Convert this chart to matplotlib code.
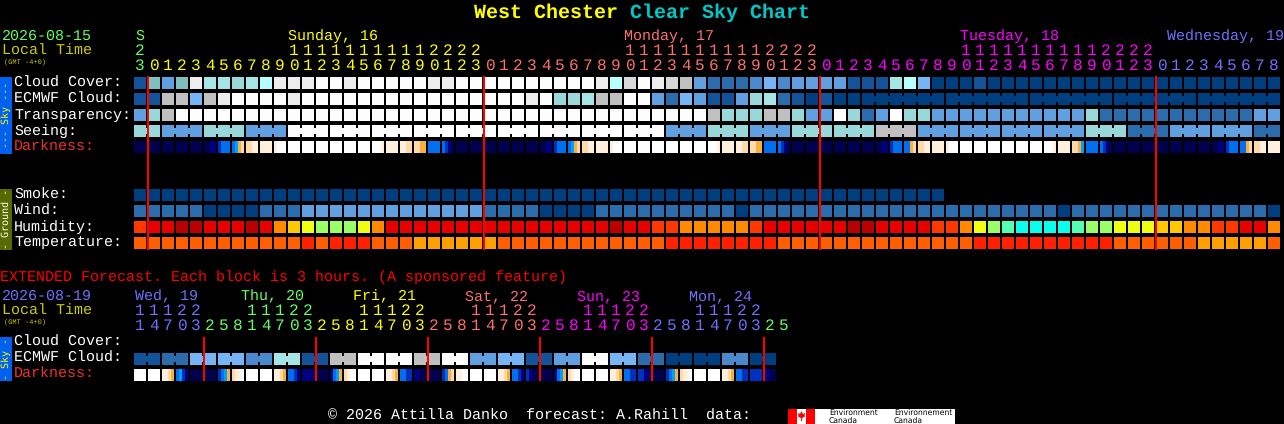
import matplotlib
matplotlib.use("Agg")
from matplotlib import pyplot as plt
from matplotlib.patches import Polygon

plt.rcParams['text.hinting'] = 'no_hinting'

# cloud palette, clear -> overcast
cloud_pal = ['#003f7f', '#13539a', '#2b6cad', '#4a8acc', '#60a0e0', '#75b5f5', '#7fbfbf',
             '#98d8d8', '#a5e5e5', '#b5ffff', '#c0c0c0', '#d8d8d8', '#ededed', '#fdfdfd']
hum_pal = ['#08ffee', '#55ffb0', '#99ff66', '#eeff11', '#ffc800', '#ff8a00', '#ff3800', '#e60000', '#b80000']
temp_pal = ['#ffa000', '#ff5f00', '#ff2000']
dark_pal = ['#00004f', '#000080', '#0030c0', '#0070f0', '#00a0ff', '#f5b040', '#ffdaa8', '#fff0dc', '#ffffff']

cloud_cover = [1, 6, 4, 6, 12, 8, 8, 7, 8, 9, 12, 12, 12, 13, 13, 12, 13, 13, 13, 13, 13,
               12, 12, 13, 13, 13, 13, 13, 13, 13, 13, 13, 13, 12, 9, 11, 13, 12, 11, 10,
               4, 2, 2, 2, 3, 5, 3, 4, 4, 4, 4, 1, 1, 1, 8, 9, 5, 0, 0, 0, 1,
               0, 0, 0, 0, 0, 0, 0, 0, 0, 0, 0, 0, 0, 0, 0, 0, 0, 0, 0, 0, 0]
ecmwf = [1, 1, 10, 10, 5, 10, 12, 13, 13, 13, 13, 12, 13, 13, 13, 13, 13, 13, 13, 13, 13,
         13, 13, 13, 13, 13, 13, 13, 12, 13, 7, 7, 8, 10, 10, 13, 13, 4, 2, 5, 4, 1, 1, 4,
         7, 8, 2, 1, 0, 1, 0, 0,
         0, 0, 0, 0, 0, 0, 0, 0, 0, 0, 0, 0, 0, 0, 0, 0, 0, 0, 0, 0, 0, 0, 0, 0, 0, 0, 0, 0, 0, 0]
transparency = [4, 7, 10] + [13] * 38 + [10, 7, 7, 7, 10, 10, 7, 4, 4, 13, 7, 2, 4, 13, 7, 7] \
    + [4] * 11 + [7] + [2] * 11 + [4, 4]
seeing = [7, 7, 4, 4, 4, 7, 7, 7, 4, 4, 4] + [13] * 27 + [4, 4, 4, 7, 7, 7, 4, 4, 4, 7, 7, 7, 7, 7, 7,
          10, 10, 10] + [4] * 12 + [7, 7, 7, 2, 2, 2] + [4] * 6 + [2, 2]
smoke = [0] * 58
wind = [2, 2, 2, 2, 2, 0, 0, 0, 0, 2, 2, 2] + [4] * 13 + [2, 2, 2, 2, 0, 0, 0, 0] + [2] * 10 + [0] \
    + [2] * 22 + [0] + [2] * 14 + [0]
humidity = [6, 7, 7, 8, 8, 7, 7, 7, 8, 7, 5, 4, 3, 2, 2, 2, 3, 5, 7, 7, 7] + [7] * 13 \
    + [8, 7, 7, 6, 6, 5, 5, 5, 5, 5, 6, 7, 7, 7, 7, 7, 7, 8, 8, 7, 7, 7, 7, 6, 6, 5, 3, 2, 1,
       0, 0, 0, 0, 1, 2, 2, 3, 3, 3, 4, 4, 5, 5, 6, 6, 7, 7, 5]
temperature = [1] * 12 + [2, 1, 2, 2, 2, 1, 1, 1, 0, 0, 0, 0, 0, 0] + [1] * 12 + [2] * 8 \
    + [1] * 14 + [2] * 10 + [1] * 6 + [0] * 5 + [1]

# darkness, four samples per block
N = [0, 0, 0, 0]
W = [8, 8, 8, 8]
darkness = [N, N, N, N, N, [0, 0, 1, 1], [2, 3, 3, 3], [3, 4, 5, 6], [6, 6, 7, 7], [7, 7, 7, 7], [7, 8, 8, 8],
            W, W, W, W, W, W, [8, 8, 8, 7], [7, 7, 7, 7], [7, 7, 6, 6], [6, 6, 5, 5], [3, 3, 3, 3], [3, 2, 1, 0],
            N, N, N, N, N, N, [0, 0, 1, 1], [2, 3, 3, 3], [3, 4, 5, 6], [6, 6, 7, 7], [7, 7, 7, 7], [7, 8, 8, 8],
            W, W, W, W, W, W, [8, 8, 8, 7], [7, 7, 7, 7], [7, 7, 6, 6], [6, 6, 5, 5], [3, 3, 3, 3], [3, 2, 1, 0],
            N, N, N, N, N, N, [0, 0, 1, 1], [2, 3, 3, 3], [3, 3, 5, 6], [6, 6, 7, 7], [7, 7, 7, 7], [7, 8, 8, 8],
            W, W, W, W, W, W, [8, 8, 8, 7], [7, 7, 7, 7], [6, 6, 5, 4], [3, 3, 3, 3], [3, 2, 1, 0],
            N, N, N, N, N, N, N, [0, 0, 1, 1], [2, 3, 3, 3], [3, 3, 5, 6], [6, 6, 7, 7], [7, 7, 7, 7]]

ext_ecmwf = [1, 1, 2, 2, 5, 5, 5, 5, 3, 3, 8, 8, 1, 1, 10, 10, 13, 13, 13, 13, 10, 10, 13, 13,
             4, 4, 5, 5, 1, 1, 4, 4, 13, 13, 5, 5, 2, 2, 0, 0, 0, 0, 3, 3, 0, 0]
ext_darkness = [W, W, [7, 7, 6, 5], [3, 4, 2, 1], N, N, [2, 3, 4, 5], [6, 7, 7, 8], W, W, [7, 7, 6, 5], [3, 3, 2, 1],
                [1, 1, 1, 1], N, [1, 3, 4, 5], [6, 7, 8, 8], W, W, [7, 7, 6, 5], [3, 3, 2, 2], [1, 1, 0, 0], N,
                [2, 3, 5, 6], [7, 7, 8, 8], W, W, [7, 7, 6, 5], [3, 3, 2, 1], [2, 1, 0, 0], N, [1, 3, 4, 5],
                [6, 7, 8, 8], W, W, [7, 7, 6, 5], [3, 3, 2, 2], [2, 2, 1, 1], N, [2, 3, 4, 5], [6, 7, 7, 8], W, W,
                [7, 7, 6, 5], [3, 3, 2, 2], [2, 2, 2, 2], [1, 1, 0, 0]]

GREEN = '#66ff66'
YELLOW = '#ffff00'
ROSE = '#ff7070'
MAGENTA = '#ff00ff'
PERI = '#7070ff'
OLIVE = '#cccc00'
hour_colors = [GREEN] + [YELLOW] * 24 + [ROSE] * 24 + [MAGENTA] * 24 + [PERI] * 9
hours = [23] + list(range(24)) * 3 + list(range(9))
ext_hours = [11, 14, 17, 20, 23] + [2, 5, 8, 11, 14, 17, 20, 23] * 5 + [2, 5]
ext_colors = [PERI] * 5 + [GREEN] * 8 + [YELLOW] * 8 + [ROSE] * 8 + [MAGENTA] * 8 + [PERI] * 8 + [GREEN] * 2

X0 = 134
STEP = 14
SIZE = 12
FONT = 'Liberation Mono'
FS = 10.8


def col_x(i):
    return X0 + STEP * i


def txt(x, y, s, color='white', size=FS, **kw):
    # y is the baseline
    kw.setdefault('family', FONT)
    ax.text(x, y, s, color=color, fontsize=size, va='baseline', **kw)


def side_txt(y, s, color):
    ax.text(6, y, s, color=color, fontsize=7.2, family='DejaVu Sans Mono', rotation=90, ha='center', va='center')


def box(x, y, w, h, color):
    # coordinates sit on whole pixels, so no snapping needed
    bars = ax.bar(x, h, bottom=y, width=w, align='edge', color=color, linewidth=0)
    for b in bars:
        b.set_snap(False)


def draw_row(values, pal, y, joined=None):
    for i, v in enumerate(values):
        box(col_x(i), y, SIZE, SIZE, pal[v])
        # blocks of one forecast step are tied by a small bridge
        if joined and i + 1 < len(values) and joined(i):
            box(col_x(i) + SIZE, y + 3, STEP - SIZE, 6, pal[v])


def draw_dark(values, y):
    for i, samples in enumerate(values):
        for j, v in enumerate(samples):
            box(col_x(i) + j * 3, y, 3, SIZE, dark_pal[v])


def hour_labels(hrs, colors, y_tens, y_units):
    for i, (h, c) in enumerate(zip(hrs, colors)):
        cx = col_x(i) + 6
        txt(cx, y_units, str(h % 10), c, size=11.6, ha='center')
        if h >= 10:
            txt(cx, y_tens, str(h // 10), c, size=11.6, ha='center')


fig = plt.figure(figsize=(12.84, 4.24), dpi=100, facecolor='black')
ax = fig.add_axes([0, 0, 1, 1])
ax.set_xlim(0, 1284)
ax.set_ylim(424, 0)
ax.axis('off')

# title
txt(474, 18, 'West Chester', YELLOW, size=14.4, weight='bold')
txt(630, 18, 'Clear Sky Chart', '#00c8c8', size=14.4, weight='bold')

# header
txt(2, 40, '2026-08-15', GREEN)
txt(2, 55, 'Local Time', OLIVE)
txt(4, 64, '(GMT -4+0)', OLIVE, size=5)
txt(135, 40, 'S', GREEN)
txt(288, 40, 'Sunday, 16', YELLOW)
txt(624, 40, 'Monday, 17', ROSE)
txt(960, 40, 'Tuesday, 18', MAGENTA)
txt(1167, 40, 'Wednesday, 19', PERI)
hour_labels(hours, hour_colors, 55, 70)

# main rows
txt(14, 87, 'Cloud Cover:')
txt(14, 103, 'ECMWF Cloud:')
txt(14, 119, 'Transparency:')
txt(14, 135, 'Seeing:')
txt(14, 151, 'Darkness:', '#ee3030')
txt(14, 199, 'Smoke:')
txt(14, 215, 'Wind:')
txt(14, 231, 'Humidity:')
txt(14, 247, 'Temperature:')

draw_row(cloud_cover, cloud_pal, 77)
draw_row(ecmwf, cloud_pal, 93, lambda i: i >= 52 and (i + 1 - 52) % 6 != 0)
draw_row(transparency, cloud_pal, 109)
draw_row(seeing, cloud_pal, 125, lambda i: (i + 1 - 2) % 3 != 0)
draw_dark(darkness, 141)
draw_row(smoke, cloud_pal, 189)
draw_row(wind, cloud_pal, 205)
draw_row(humidity, hum_pal, 221)
draw_row(temperature, temp_pal, 237)

for x in [147, 483, 819, 1155]:
    box(x, 76, 2, 174, '#ff0000')

# side bars
box(0, 77, 12, 77, '#0060f0')
box(0, 189, 12, 61, '#556b00')
side_txt(115, '--- Sky ---', YELLOW)
side_txt(219, '- Ground -', 'white')

# extended forecast
txt(0, 281, 'EXTENDED Forecast. Each block is 3 hours. (A sponsored feature)', '#ff0000')
txt(2, 300, '2026-08-19', PERI)
txt(2, 315, 'Local Time', OLIVE)
txt(4, 324, '(GMT -4+0)', OLIVE, size=5)
txt(135, 300, 'Wed, 19', PERI)
txt(241, 300, 'Thu, 20', GREEN)
txt(353, 300, 'Fri, 21', YELLOW)
txt(465, 300, 'Sat, 22', ROSE)
txt(577, 300, 'Sun, 23', MAGENTA)
txt(689, 300, 'Mon, 24', PERI)
hour_labels(ext_hours, ext_colors, 315, 330)

txt(14, 346, 'Cloud Cover:')
txt(14, 362, 'ECMWF Cloud:')
txt(14, 378, 'Darkness:', '#ee3030')
draw_row(ext_ecmwf, cloud_pal, 353, lambda i: i % 2 == 0)
draw_dark(ext_darkness, 369)
for x in [203, 315, 427, 539, 651, 763]:
    box(x, 337, 2, 44, '#ff0000')
box(0, 337, 12, 44, '#0060f0')
side_txt(359, '- Sky -', YELLOW)

# footer and logo
txt(328, 420, '\u00a9 2026 Attilla Danko  forecast: A.Rahill  data:')
box(788, 409, 167, 15, 'white')
box(788, 409, 9, 15, '#ff0000')
box(806, 409, 9, 15, '#ff0000')
ax.add_patch(Polygon([(801.5, 411), (803, 414), (805, 413), (804.5, 417), (802, 418), (802, 421), (801, 421),
                      (801, 418), (798.5, 417), (798, 413), (800, 414)], color='#ff0000', linewidth=0))
txt(829, 415, 'Environment', 'black', size=5.5, family='DejaVu Sans')
txt(829, 423, 'Canada', 'black', size=5.5, family='DejaVu Sans')
txt(894, 415, 'Environnement', 'black', size=5.5, family='DejaVu Sans')
txt(894, 423, 'Canada', 'black', size=5.5, family='DejaVu Sans')

fig.savefig('out.png', dpi=100, facecolor='black')
